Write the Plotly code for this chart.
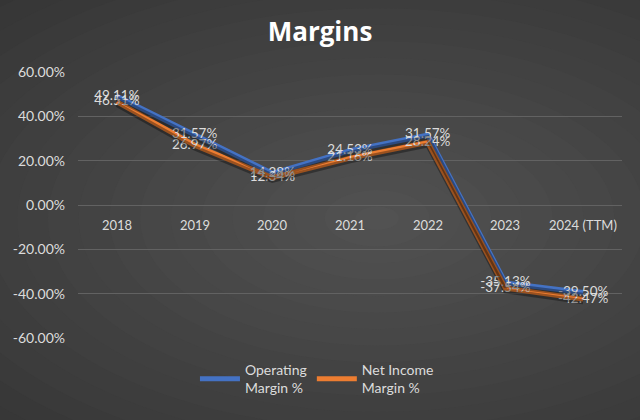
import plotly.graph_objects as go

categories = ["2018", "2019", "2020", "2021", "2022", "2023", "2024 (TTM)"]
operating_margin = [49.11, 31.57, 14.28, 24.53, 31.57, -35.13, -39.50]
net_income_margin = [46.51, 26.97, 12.34, 21.16, 28.24, -37.54, -42.47]
y_ticks = [60, 40, 20, 0, -20, -40, -60]
y_tick_labels = ["60.00%", "40.00%", "20.00%", "0.00%", "-20.00%", "-40.00%", "-60.00%"]

FONT = "Lato"
LABEL_COLOR = "#dcdcdc"

fig = go.Figure()

series = [
    ("Operating<br>Margin %", operating_margin, "#4472C4"),
    ("Net Income<br>Margin %", net_income_margin, "#ED7D31"),
]
idx = list(range(len(categories)))

# shadows
for name, vals, color in series:
    fig.add_trace(go.Scatter(
        x=idx, y=vals, mode="lines",
        line=dict(color="rgba(0,0,0,0.35)", width=5),
        showlegend=False, hoverinfo="skip",
        xaxis="x", yaxis="y2",
    ))

# lines
for name, vals, color in series:
    fig.add_trace(go.Scatter(
        x=idx, y=vals, mode="lines", name=name,
        line=dict(color=color, width=5),
    ))

# data labels drawn on top of both lines
for name, vals, color in series:
    fig.add_trace(go.Scatter(
        x=idx, y=vals, mode="text", showlegend=False, hoverinfo="skip",
        text=[f"{v:.2f}%" for v in vals],
        textposition="middle center",
        textfont=dict(family=FONT, size=13.5, color=LABEL_COLOR),
        cliponaxis=False,
    ))

# category labels at zero line
for i, c in enumerate(categories):
    fig.add_annotation(x=i, y=0, xref="x", yref="y", text=c, showarrow=False,
                       yshift=-20, font=dict(family=FONT, size=13, color=LABEL_COLOR))

# background gradient approximation
shapes = []
n = 24
for i in range(n):
    f = i / (n - 1)
    r = 1.3 * (1 - f) + 0.04
    c0, c1 = 0x2e, 0x52
    v = int(c0 + (c1 - c0) * f)
    col = f"rgb({v},{v},{v})"
    cx, cy = 0.55, 0.45
    shapes.append(dict(type="circle", xref="paper", yref="paper",
                       x0=cx - r, x1=cx + r, y0=cy - r * 1.1, y1=cy + r * 1.1,
                       fillcolor=col, line=dict(width=0), layer="below"))

fig.update_layout(
    width=640, height=420,
    margin=dict(l=78, r=18, t=72, b=82),
    paper_bgcolor="#2e2e2e",
    plot_bgcolor="rgba(0,0,0,0)",
    shapes=shapes,
    title=dict(text="<b>Margins</b>", x=0.5, xanchor="center", y=0.925, yanchor="middle",
               font=dict(family="Open Sans", size=26, color="white")),
    xaxis=dict(showticklabels=False, showgrid=False, zeroline=False, showline=False,
               range=[-0.5, 6.5]),
    yaxis=dict(range=[-60, 60], tickvals=y_ticks, ticktext=y_tick_labels,
               gridcolor="#626262", gridwidth=1, zeroline=False, showline=False,
               tickfont=dict(family=FONT, size=14, color=LABEL_COLOR), ticklabelstandoff=12),
    yaxis2=dict(range=[-60 + 1.2, 60 + 1.2], overlaying="y", visible=False),
    legend=dict(orientation="h", x=0.215, xanchor="left", y=-0.06, yanchor="top",
                font=dict(family=FONT, size=14, color=LABEL_COLOR),
                bgcolor="rgba(0,0,0,0)", itemwidth=40),
    showlegend=True,
)

fig.write_html("out.html", config={"displayModeBar": False},
               post_script="document.body.style.margin='0';")
